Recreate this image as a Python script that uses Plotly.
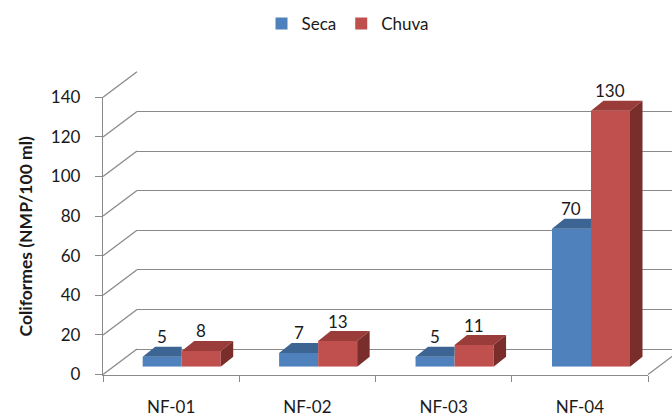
import plotly.graph_objects as go

# ---------------- data ----------------
categories = ["NF-01", "NF-02", "NF-03", "NF-04"]
seca = [5, 7, 5, 70]
chuva = [8, 13, 11, 130]
y_ticks = [0, 20, 40, 60, 80, 100, 120, 140]
series_names = ["Seca", "Chuva"]

# ---------------- geometry (pixels) ----------------
W, H = 672, 417
FRONT_X0, FRONT_X1 = 103, 648          # front axis frame
FRONT_Y0, FRONT_YTOP = 374.5, 97.3     # y of 0 and of max tick on front axis
DEPTH_DX, DEPTH_DY = 34, 25.5          # offset of back wall
BAR_X0, BAR_X1 = 113.5, 659.2          # bar plot x-range pixel span
BAR_Y0, BAR_SCALE = 366.7, 1.969       # bar baseline and px per unit
BAR_DX, BAR_DY = 12.5, 10              # bar depth
BARGAP = 0.428
Y_MAX = y_ticks[-1]

FONT = "Lato"
TXT = "#1a1a1a"
GRID = "#8a8a8a"
BLUE, BLUE_TOP = "#4F81BD", "#3c6593"
RED, RED_TOP, RED_SIDE = "#C0504D", "#9a3d3a", "#7a2e2c"


def px(p):
    return p / W


def py(p):
    return (H - p) / H


fig = go.Figure()

# back wall (subplot x/y) - gridlines only
fig.add_trace(go.Scatter(x=[0], y=[None], xaxis="x", yaxis="y", showlegend=False, hoverinfo="skip"))
# front frame (x2/y2)
fig.add_trace(go.Scatter(x=categories, y=[None] * len(categories), xaxis="x2", yaxis="y2",
                         showlegend=False, hoverinfo="skip"))

# bars (x3/y3)
idx = list(range(len(categories)))
fig.add_trace(go.Bar(x=idx, y=seca, name=series_names[0], marker=dict(color=BLUE, line=dict(width=0)),
                     hovertext=categories, xaxis="x3", yaxis="y3"))
fig.add_trace(go.Bar(x=idx, y=chuva, name=series_names[1], marker=dict(color=RED, line=dict(width=0)),
                     hovertext=categories, xaxis="x3", yaxis="y3"))

# 3-D faces computed from the values
half = (1 - BARGAP) / 2
ddx = BAR_DX * (len(categories)) / (BAR_X1 - BAR_X0)
ddy = BAR_DY / BAR_SCALE


def poly_trace(xs, ys, color):
    return go.Scatter(x=xs, y=ys, mode="lines", fill="toself", fillcolor=color,
                      line=dict(width=0, color=color), xaxis="x3", yaxis="y3",
                      showlegend=False, hoverinfo="skip")


bx, by = [], []
for i, v in zip(idx, seca):
    xl, xr = i - half, i
    bx += [xl, xr, xr, xl + ddx, xl, None]
    by += [v, v, v + ddy, v + ddy, v, None]
fig.add_trace(poly_trace(bx, by, BLUE_TOP))

rx, ry, sx, sy = [], [], [], []
for i, v in zip(idx, chuva):
    xl, xr = i, i + half
    rx += [xl, xr, xr + ddx, xl + ddx, xl, None]
    ry += [v, v, v + ddy, v + ddy, v, None]
    sx += [xr, xr, xr + ddx, xr + ddx, xr, None]
    sy += [0, v, v + ddy, ddy, 0, None]
fig.add_trace(poly_trace(rx, ry, RED_TOP))
fig.add_trace(poly_trace(sx, sy, RED_SIDE))

# data labels
bar_half_px = half * (BAR_X1 - BAR_X0) / len(categories) / 2
annotations = []
for vals, sh in ((seca, -bar_half_px), (chuva, bar_half_px)):
    for i, v in zip(idx, vals):
        annotations.append(dict(x=i, y=v, xref="x3", yref="y3", text=str(v), showarrow=False,
                                xshift=sh, yshift=20, xanchor="center", yanchor="middle",
                                font=dict(family=FONT, size=17, color=TXT)))

annotations.append(dict(x=px(25), y=py(236.5), xref="paper", yref="paper",
                        text="Coliformes (NMP/100 ml)", textangle=-90, showarrow=False,
                        xanchor="center", yanchor="middle",
                        font=dict(family=FONT, size=17.5, color=TXT, weight="bold")))

# diagonal lines from front axis to back wall
shapes = []
for t in y_ticks:
    shapes.append(dict(type="line", xref="x2 domain", yref="y2 domain",
                       xsizemode="pixel", ysizemode="pixel", xanchor=0, yanchor=t / Y_MAX,
                       x0=0, x1=DEPTH_DX, y0=0, y1=DEPTH_DY,
                       line=dict(color=GRID, width=1.3), layer="below"))
shapes.append(dict(type="line", xref="x2 domain", yref="y2 domain",
                   xsizemode="pixel", ysizemode="pixel", xanchor=1, yanchor=0,
                   x0=0, x1=DEPTH_DX, y0=0, y1=DEPTH_DY,
                   line=dict(color=GRID, width=1.3), layer="below"))

fig.update_layout(
    width=W, height=H,
    margin=dict(l=0, r=0, t=0, b=0, autoexpand=False),
    paper_bgcolor="white", plot_bgcolor="rgba(0,0,0,0)",
    barmode="group", bargap=BARGAP, bargroupgap=0,
    font=dict(family=FONT, size=17, color=TXT),
    showlegend=True,
    legend=dict(orientation="h", x=px(348), xanchor="center", y=py(24), yanchor="middle",
                font=dict(family=FONT, size=17, color=TXT), bgcolor="rgba(0,0,0,0)"),
    annotations=annotations,
    shapes=shapes,
    xaxis=dict(domain=[px(FRONT_X0 + DEPTH_DX), 1], range=[0, 1], showgrid=False, zeroline=False,
               showticklabels=False, ticks="", showline=False, anchor="y", automargin=False),
    yaxis=dict(domain=[py(FRONT_Y0 - DEPTH_DY), py(FRONT_YTOP - DEPTH_DY)], range=[0, Y_MAX],
               tickvals=y_ticks, showgrid=True, gridcolor=GRID, gridwidth=1.3,
               zeroline=True, zerolinecolor=GRID, zerolinewidth=1.3,
               showticklabels=False, ticks="", showline=False, anchor="x", automargin=False),
    xaxis2=dict(domain=[px(FRONT_X0), px(FRONT_X1)], type="category", categoryorder="array",
                categoryarray=categories, range=[-0.5, len(categories) - 0.5],
                showgrid=False, zeroline=False, showline=True, linecolor=GRID, linewidth=1.3,
                ticks="outside", ticklen=6, tickcolor=GRID, tickwidth=1.3, tickson="boundaries",
                ticklabelstandoff=17, tickfont=dict(family=FONT, size=17, color=TXT),
                anchor="y2", automargin=False),
    yaxis2=dict(domain=[py(FRONT_Y0), py(FRONT_YTOP)], range=[0, Y_MAX], tickvals=y_ticks,
                showgrid=False, zeroline=False, showline=True, linecolor=GRID, linewidth=1.3,
                ticks="outside", ticklen=7, tickcolor=GRID, tickwidth=1.3,
                ticklabelstandoff=11, tickfont=dict(family=FONT, size=17, color=TXT),
                anchor="x2", automargin=False),
    xaxis3=dict(domain=[px(BAR_X0), px(BAR_X1)], range=[-0.5, len(categories) - 0.5],
                visible=False, anchor="y3", automargin=False),
    yaxis3=dict(domain=[py(BAR_Y0), py(BAR_Y0 - Y_MAX * BAR_SCALE)], range=[0, Y_MAX],
                visible=False, anchor="x3", automargin=False),
)

fig.write_html("out.html")
